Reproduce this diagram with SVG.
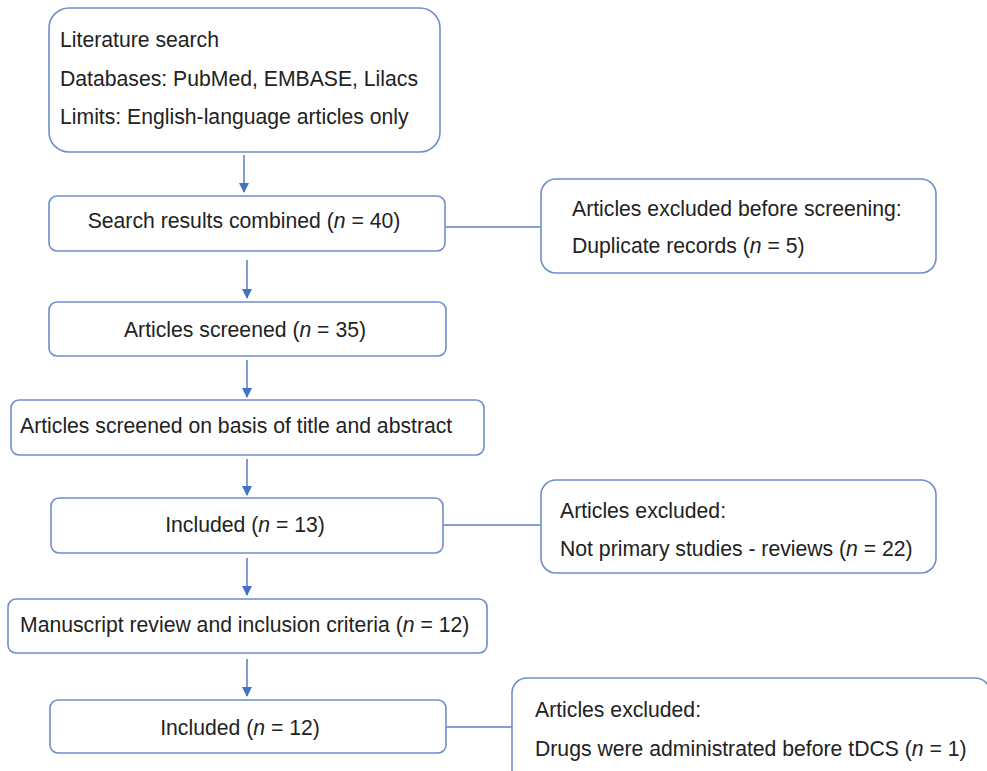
<svg xmlns="http://www.w3.org/2000/svg" width="987" height="771" viewBox="0 0 987 771">
<style>
.box{fill:#ffffff;stroke:#6e8fca;stroke-width:1.6}
.t{font-family:"Liberation Sans",Arial,sans-serif;font-size:21.2px;fill:#222222}
.c{text-anchor:middle}
.ln{stroke:#5b82c8;stroke-width:1.4;fill:none}
.ar{stroke:#4a74c4;stroke-width:1.4;fill:none;marker-end:url(#ah)}
</style>
<defs>
<marker id="ah" viewBox="0 0 10 10" refX="9" refY="5" markerWidth="10" markerHeight="10" markerUnits="userSpaceOnUse" orient="auto">
<path d="M0,0 L10,5 L0,10 z" fill="#4472c4"/>
</marker>
</defs>
<rect width="987" height="771" fill="#ffffff"/>
<g id="connectors">
<line class="ar" x1="244" y1="155" x2="244" y2="192"/>
<line class="ar" x1="247" y1="260" x2="247" y2="298"/>
<line class="ar" x1="247" y1="360" x2="247" y2="397"/>
<line class="ar" x1="247" y1="459" x2="247" y2="495"/>
<line class="ar" x1="247" y1="558" x2="247" y2="595"/>
<line class="ar" x1="247" y1="659" x2="247" y2="696"/>
<line class="ln" x1="445" y1="227" x2="541" y2="227"/>
<line class="ln" x1="443" y1="525" x2="541" y2="525"/>
<line class="ln" x1="446" y1="727" x2="512" y2="727"/>
</g>
<g id="n1">
<rect class="box" x="49" y="8" width="391" height="144" rx="20"/>
<text class="t" x="60" y="47">Literature search</text>
<text class="t" x="60" y="86">Databases: PubMed, EMBASE, Lilacs</text>
<text class="t" x="60" y="124">Limits: English-language articles only</text>
</g>
<g id="n2">
<rect class="box" x="49" y="196" width="396" height="55" rx="8"/>
<text class="t c" x="244" y="228">Search results combined (<tspan font-style="italic">n</tspan> = 40)</text>
</g>
<g id="n3">
<rect class="box" x="541" y="179" width="395" height="94" rx="15"/>
<text class="t" x="572" y="216">Articles excluded before screening:</text>
<text class="t" x="572" y="253">Duplicate records (<tspan font-style="italic">n</tspan> = 5)</text>
</g>
<g id="n4">
<rect class="box" x="49" y="302" width="397" height="54" rx="8"/>
<text class="t c" x="245" y="337">Articles screened (<tspan font-style="italic">n</tspan> = 35)</text>
</g>
<g id="n5">
<rect class="box" x="11" y="400" width="473" height="55" rx="8"/>
<text class="t" x="20" y="433">Articles screened on basis of title and abstract</text>
</g>
<g id="n6">
<rect class="box" x="51" y="498" width="392" height="55" rx="8"/>
<text class="t c" x="245" y="532">Included (<tspan font-style="italic">n</tspan> = 13)</text>
</g>
<g id="n7">
<rect class="box" x="541" y="480" width="395" height="93" rx="15"/>
<text class="t" x="560" y="518">Articles excluded:</text>
<text class="t" x="560" y="556">Not primary studies - reviews (<tspan font-style="italic">n</tspan> = 22)</text>
</g>
<g id="n8">
<rect class="box" x="8" y="599" width="479" height="54" rx="8"/>
<text class="t" x="20" y="632">Manuscript review and inclusion criteria (<tspan font-style="italic">n</tspan> = 12)</text>
</g>
<g id="n9">
<rect class="box" x="50" y="700" width="396" height="53" rx="8"/>
<text class="t c" x="240" y="735">Included (<tspan font-style="italic">n</tspan> = 12)</text>
</g>
<g id="n10">
<rect class="box" x="512" y="678" width="478" height="110" rx="15"/>
<text class="t" x="535" y="717">Articles excluded:</text>
<text class="t" x="535" y="756">Drugs were administrated before tDCS (<tspan font-style="italic">n</tspan> = 1)</text>
</g>
</svg>
